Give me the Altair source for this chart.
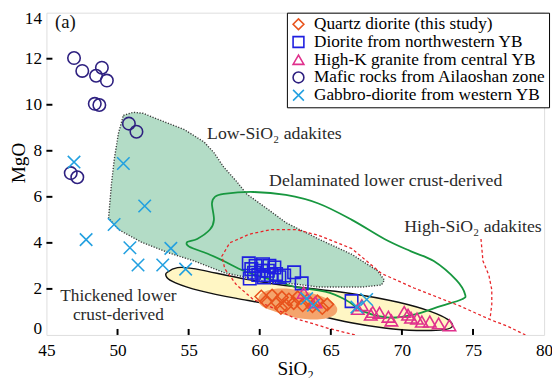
import altair as alt
import pandas as pd

FONT = "Liberation Serif"

# ---------------- sample groups ----------------
GROUPS = ["Quartz diorite (this study)", "Diorite from northwestern YB",
          "High-K granite from central YB", "Mafic rocks from Ailaoshan zone",
          "Gabbro-diorite from western YB"]
COLORS = ["#e8531c", "#1f1fe0", "#e0308c", "#2e2080", "#22a0e0"]
SHAPES = ["diamond", "square", "triangle-up", "circle", "M-1,-1L1,1M-1,1L1,-1"]

QD_SIO2 = [60.11, 60.45, 60.87, 61.22, 61.49, 61.56, 61.84, 62.05, 62.39, 62.67,
           63.02, 63.36, 63.71, 64.06, 64.40, 64.75]
QD_MGO = [1.67, 1.46, 1.71, 1.42, 1.17, 1.63, 1.29, 1.54, 1.38, 1.63,
          1.29, 1.50, 1.25, 1.46, 1.17, 1.33]

DI_SIO2 = [59.23, 59.41, 59.30, 59.71, 60.11, 60.23, 60.57, 60.68, 61.03, 61.15,
           61.38, 61.72, 62.42, 62.95, 66.46, 59.60, 60.30, 59.90, 60.80]
DI_MGO = [3.11, 2.86, 2.45, 3.00, 2.79, 3.07, 2.79, 3.00, 2.93, 2.65,
          2.51, 2.58, 2.72, 2.24, 1.47, 2.70, 2.50, 2.60, 2.60]

HK_SIO2 = [63.09, 63.92, 66.90, 67.18, 67.81, 67.95, 68.42, 69.05, 69.26, 70.16,
           70.43, 70.64, 71.06, 71.40, 71.96, 72.58, 73.34]
HK_MGO = [1.83, 1.42, 1.13, 1.29, 0.88, 1.00, 0.96, 0.79, 0.63, 1.00,
          0.88, 0.75, 0.71, 0.58, 0.58, 0.50, 0.42]

MA_SIO2 = [46.94, 47.52, 48.90, 48.49, 49.25, 48.40, 48.72, 50.80, 51.33, 46.71, 47.17]
MA_MGO = [12.03, 11.47, 11.61, 11.26, 11.05, 10.04, 9.99, 9.18, 8.83, 7.03, 6.85]

GB_SIO2 = [46.94, 50.41, 51.91, 49.76, 47.79, 50.87, 53.75, 51.44, 53.18, 54.79,
           67.52, 66.83, 63.30, 63.78]
GB_MGO = [7.51, 7.45, 5.60, 4.80, 4.14, 3.79, 3.76, 3.04, 3.04, 2.86,
          1.54, 1.21, 1.58, 1.29]

# ---------------- discrimination fields ----------------
LOW_X = [50.41, 51.10, 51.79, 53.32, 54.70, 56.09, 56.78, 57.47, 58.37, 59.07,
         60.66, 61.84, 64.13, 66.48, 68.28, 68.77, 68.56, 67.18, 64.13, 62.53,
         60.66, 59.07, 57.47, 55.40, 53.73, 51.65, 50.06, 49.37, 49.57, 49.78, 50.06]
LOW_Y = [9.54, 9.67, 9.63, 9.25, 8.92, 8.38, 7.92, 7.29, 6.67, 6.13,
         5.42, 4.88, 4.17, 3.50, 2.79, 2.38, 2.17, 2.08, 2.08, 2.21,
         2.29, 2.50, 2.71, 3.21, 3.54, 4.04, 4.58, 5.08, 6.54, 7.67, 8.75]

THICK_X = [53.39, 54.08, 55.60, 59.07, 62.53, 66.48, 69.95, 72.24, 73.34, 73.69,
           73.27, 71.06, 68.77, 66.48, 63.92, 61.15, 58.37, 55.60, 53.87, 53.39]
THICK_Y = [2.67, 3.00, 2.88, 2.38, 2.08, 1.83, 1.42, 1.00, 0.67, 0.38,
           0.21, 0.17, 0.29, 0.50, 0.88, 1.29, 1.58, 1.92, 2.29, 2.50]

ELL_X = [59.90, 60.17, 61.01, 62.19, 63.57, 64.82, 65.44, 65.17, 64.06, 62.53, 61.15, 60.17]
ELL_Y = [1.54, 1.83, 2.00, 2.00, 1.83, 1.54, 1.17, 0.83, 0.67, 0.75, 1.00, 1.25]

DELAM_X = [57.47, 59.55, 61.84, 64.13, 66.48, 68.77, 70.64, 72.24, 73.83, 74.45,
           74.18, 72.72, 70.85, 69.12, 67.38, 66.00, 64.61, 62.53, 61.63, 60.25,
           58.86, 57.47, 56.30, 55.05, 54.91, 55.60, 56.50, 56.78, 56.64, 56.85]
DELAM_Y = [6.13, 6.21, 6.08, 5.71, 5.00, 4.17, 3.63, 3.21, 2.38, 1.75,
           1.54, 1.25, 0.88, 0.75, 1.00, 1.54, 1.88, 2.08, 2.25, 2.50,
           2.79, 3.21, 3.54, 3.83, 4.04, 4.17, 4.58, 5.00, 5.71, 6.00]

HSA_X = [66.69, 64.82, 62.53, 60.80, 59.55, 58.37, 57.54, 57.34, 57.89, 59.28,
         60.80, 62.53, 64.13, 66.48, 68.56, 70.85, 74.11, 76.19, 77.43, 78.68]
HSA_Y = [0.00, 0.29, 0.71, 1.21, 1.54, 2.17, 2.88, 3.42, 4.00, 4.38,
         4.58, 4.58, 4.33, 3.75, 2.67, 2.04, 1.25, 0.67, 0.38, 0.00]
HSB_X = [75.56, 75.70, 76.12, 76.32, 76.32, 76.19]
HSB_Y = [4.17, 3.21, 2.58, 1.96, 1.33, 0.67]

# ---------------- labels & ticks ----------------
LBL_TEXT = ["Low-SiO₂ adakites", "Delaminated lower crust-derived", "High-SiO₂ adakites"]
LBL_X = [56.30, 60.66, 70.16]
LBL_Y = [8.73, 6.68, 4.67]
CLBL_TEXT = ["Thickened lower", "crust-derived"]
CLBL_X = [50.06, 50.06]
CLBL_Y = [1.67, 0.86]
PANEL_TEXT = ["(a)"]
PANEL_X = [45.60]
PANEL_Y = [13.60]

X_TICKS = [45, 50, 55, 60, 65, 70, 75, 80]
Y_TICKS = [0, 2, 4, 6, 8, 10, 12, 14]
X_INNER = [50, 55, 60, 65, 70, 75]
Y_INNER = [2, 4, 6, 8, 10, 12]

# ---------------- build tables ----------------
rows = []
for g, xs_, ys_ in zip(GROUPS, [QD_SIO2, DI_SIO2, HK_SIO2, MA_SIO2, GB_SIO2],
                       [QD_MGO, DI_MGO, HK_MGO, MA_MGO, GB_MGO]):
    for a, b in zip(xs_, ys_):
        rows.append({"group": g, "SiO2": a, "MgO": b})
points = pd.DataFrame(rows)


def poly(xs_, ys_, close=True, seg="a"):
    xx = list(xs_) + ([xs_[0]] if close else [])
    yy = list(ys_) + ([ys_[0]] if close else [])
    return pd.DataFrame({"SiO2": xx, "MgO": yy, "i": range(len(xx)), "seg": seg})


xscale = alt.Scale(domain=[45, 80], nice=False, zero=False)
yscale = alt.Scale(domain=[0, 14], nice=False, zero=False)
xaxis = alt.Axis(values=X_TICKS, title="SiO₂", ticks=False, domain=False, grid=False,
                 labelFlush=False, labelFont=FONT, labelFontSize=17.5, labelColor="black",
                 labelFontWeight="normal",
                 labelPadding=7, titleFont=FONT, titleFontSize=19.5, titleFontWeight="normal",
                 titleColor="black", titleY=40, titleBaseline="alphabetic")
yaxis = alt.Axis(values=Y_TICKS, title="MgO", ticks=False, domain=False, grid=False,
                 labelFont=FONT, labelFontSize=17.5, labelColor="black", labelPadding=5,
                 labelFontWeight="normal",
                 labelFlush=True, labelFlushOffset=3,
                 titleFont=FONT, titleFontSize=19.5, titleFontWeight="normal",
                 titleColor="black", titleX=-22, titleY=152, titleBaseline="alphabetic")


def X():
    return alt.X("SiO2:Q", scale=xscale, axis=xaxis)


def Y():
    return alt.Y("MgO:Q", scale=yscale, axis=yaxis)


green = alt.Chart(poly(LOW_X, LOW_Y)).mark_line(
    fill="#b3dcc6", stroke="#3c3c3c", strokeWidth=1.4, strokeDash=[1.2, 1.6]
).encode(x=X(), y=Y(), order="i:Q")

yellow = alt.Chart(poly(THICK_X, THICK_Y)).mark_line(
    fill="#fff6c4", stroke="#111111", strokeWidth=1.5, interpolate="basis-closed"
).encode(x=X(), y=Y(), order="i:Q")

orange = alt.Chart(poly(ELL_X, ELL_Y, close=False)).mark_line(
    fill="#f4a46c", strokeWidth=0, interpolate="cardinal-closed"
).encode(x=X(), y=Y(), order="i:Q")

delam = alt.Chart(poly(DELAM_X, DELAM_Y, close=False)).mark_line(
    stroke="#17973f", strokeWidth=1.8, interpolate="cardinal-closed"
).encode(x=X(), y=Y(), order="i:Q")

red_df = pd.concat([poly(HSA_X, HSA_Y, close=False, seg="a"),
                    poly(HSB_X, HSB_Y, close=False, seg="b")])
red = alt.Chart(red_df).mark_line(
    stroke="#e8262a", strokeWidth=1.3, strokeDash=[3, 2.5], clip=True
).encode(x=X(), y=Y(), detail="seg:N", order="i:Q")

xt = pd.DataFrame({"SiO2": X_INNER, "MgO": [0] * len(X_INNER), "MgO2": [0.26] * len(X_INNER)})
yt = pd.DataFrame({"SiO2": [45] * len(Y_INNER), "SiO22": [45.42] * len(Y_INNER), "MgO": Y_INNER})
ticks_x = alt.Chart(xt).mark_rule(color="black", strokeWidth=2).encode(x=X(), y=Y(), y2="MgO2:Q")
ticks_y = alt.Chart(yt).mark_rule(color="black", strokeWidth=2).encode(x=X(), x2="SiO22:Q", y=Y())

lbl = alt.Chart(pd.DataFrame({"SiO2": LBL_X, "MgO": LBL_Y, "text": LBL_TEXT})).mark_text(
    font=FONT, fontSize=18, fontWeight="normal", color="#2a2a2a", align="left", baseline="middle"
).encode(x=X(), y=Y(), text="text:N")
clbl = alt.Chart(pd.DataFrame({"SiO2": CLBL_X, "MgO": CLBL_Y, "text": CLBL_TEXT})).mark_text(
    font=FONT, fontSize=17.5, fontWeight="normal", color="#2a2a2a", align="center", baseline="middle"
).encode(x=X(), y=Y(), text="text:N")
panel = alt.Chart(pd.DataFrame({"SiO2": PANEL_X, "MgO": PANEL_Y, "text": PANEL_TEXT})).mark_text(
    font=FONT, fontSize=19, fontWeight="normal", color="#111111", align="left", baseline="middle"
).encode(x=X(), y=Y(), text="text:N")

leg = alt.Legend(title=None, orient="none", legendX=244, legendY=0, fillColor="white",
                 strokeColor="black", padding=3, rowPadding=-3.5, labelFont=FONT,
                 labelFontSize=17.5, labelFontWeight="normal", labelColor="black",
                 labelOffset=7, labelLimit=500, symbolSize=120, symbolStrokeWidth=1.6)

pts = alt.Chart(points).mark_point(filled=False, strokeWidth=1.6, opacity=1, size=160).encode(
    x=X(), y=Y(),
    color=alt.Color("group:N", scale=alt.Scale(domain=GROUPS, range=COLORS), legend=leg),
    shape=alt.Shape("group:N", scale=alt.Scale(domain=GROUPS, range=SHAPES), legend=leg),
)

chart = alt.layer(green, yellow, orange, delam, red, ticks_x, ticks_y, lbl, clbl, panel, pts).properties(
    width=505, height=327,
    autosize=alt.AutoSizeParams(type="none"),
    padding={"left": 39, "top": 2, "right": 8, "bottom": 45},
).configure_view(stroke="black", strokeWidth=2.5).configure(background="white", font=FONT)

chart.save("out.html", embed_options={"renderer": "svg", "actions": False})
